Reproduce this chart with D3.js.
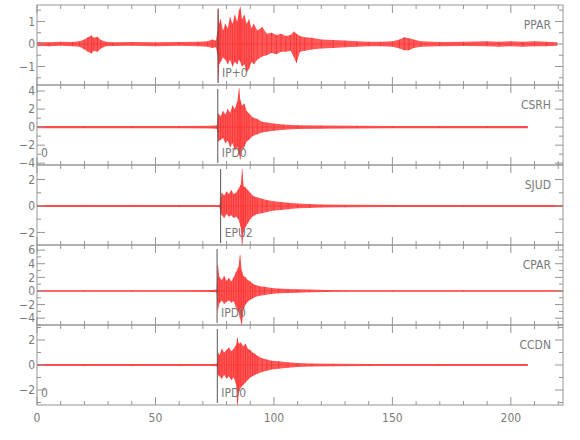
<!DOCTYPE html>
<html>
<head>
<meta charset="utf-8">
<script src="https://cdn.jsdelivr.net/npm/d3@7"></script>
<style>
  body { margin: 0; background: #fff; }
  text { font-family: "Liberation Sans Narrow", "DejaVu Sans Condensed", "Arial Narrow", sans-serif; font-size: 12px; fill: #7a7a7a; }
</style>
</head>
<body>
<div id="container"></div>
<script>
var WIDTH = 580, HEIGHT = 440,
    LEFT = 37, RIGHT = 563,
    TOP = 5, PANEL_H = 80;

// station names, one panel each
var stations = ['PPAR', 'CSRH', 'SJUD', 'CPAR', 'CCDN'];
var yDomains = [[-1.82, 1.73], [-4.2, 4.67], [-2.95, 3.1], [-5.0, 6.75], [-3.2, 3.2]];
var yMajor = [[-1, 0, 1], [-4, -2, 0, 2, 4], [-2, 0, 2], [-4, -2, 0, 2, 4, 6], [-2, 0, 2]];
var yMinor = [[-1.5, -0.5, 0.5, 1.5], [-3, -1, 1, 3], [-1, 1], [-5, -3, -1, 1, 3, 5], [-3, -1, 1, 3]];
var xDomain = [0, 222];
var xMajor = [0, 50, 100, 150, 200];
var xMinor = [10, 20, 30, 40, 60, 70, 80, 90, 110, 120, 130, 140, 160, 170, 180, 190, 210, 220];

// phase picks
var phaseNames = ['IP+0', 'IPD0', 'EPU2', 'IPD0', 'IPD0'];
var phaseTimes = [76.4, 76.3, 77.5, 76.0, 76.1];
var originTimes = [null, 0, null, null, 0];

// trace envelopes (time s, upper, lower)
var pparT  = [0, 5, 10, 15, 18, 20, 21.5, 23, 24, 25.5, 27, 29, 32, 40, 50, 60, 68, 72, 74, 75.5, 76.2, 76.5, 76.9, 77.5, 78.5, 79.5, 80.5, 81.5, 82.5, 83.5, 84.5, 85.3, 85.8, 86.5, 87.5, 88.5, 89.5, 90.5, 91.5, 93, 95, 97, 99, 101, 103, 105, 107, 108.5, 109.5, 111, 113, 116, 120, 125, 130, 135, 140, 145, 150, 153, 155, 157, 159, 162, 170, 180, 190, 195, 200, 205, 210, 215, 219.5];
var pparHi = [0.09, 0.08, 0.1, 0.09, 0.12, 0.2, 0.3, 0.38, 0.28, 0.32, 0.18, 0.1, 0.08, 0.09, 0.08, 0.09, 0.1, 0.12, 0.2, 0.15, 0.6, 1.6, 0.9, 1.1, 0.6, 0.9, 0.7, 1.2, 0.9, 1.3, 1.0, 1.5, 1.65, 1.1, 1.3, 0.9, 1.1, 0.7, 0.9, 0.6, 0.75, 0.45, 0.5, 0.4, 0.45, 0.35, 0.4, 0.55, 0.45, 0.35, 0.3, 0.28, 0.2, 0.18, 0.15, 0.12, 0.1, 0.1, 0.12, 0.2, 0.3, 0.25, 0.2, 0.12, 0.09, 0.1, 0.12, 0.1, 0.12, 0.1, 0.12, 0.1, 0.08];
var pparLo = [-0.09, -0.1, -0.08, -0.1, -0.12, -0.25, -0.35, -0.42, -0.3, -0.35, -0.2, -0.1, -0.09, -0.08, -0.1, -0.08, -0.1, -0.12, -0.18, -0.15, -0.5, -1.7, -0.9, -0.8, -0.6, -0.7, -0.9, -0.7, -1.0, -0.8, -0.9, -0.7, -0.8, -1.0, -0.9, -1.25, -1.1, -0.8, -0.9, -0.7, -0.55, -0.5, -0.4, -0.45, -0.35, -0.35, -0.3, -0.6, -0.85, -0.35, -0.3, -0.25, -0.2, -0.18, -0.15, -0.12, -0.1, -0.1, -0.12, -0.2, -0.28, -0.28, -0.18, -0.12, -0.1, -0.09, -0.1, -0.12, -0.1, -0.12, -0.1, -0.1, -0.08];

var csrhT  = [0, 20, 40, 60, 74, 76, 76.5, 77.5, 78.5, 79.5, 80.5, 81.5, 82.5, 83.5, 84.5, 85.3, 85.8, 86.5, 87.5, 88.5, 89.5, 91, 93, 95, 97, 100, 104, 110, 120, 135, 150, 170, 190, 207];
var csrhHi = [0.12, 0.12, 0.12, 0.12, 0.15, 0.2, 1.5, 1.2, 1.8, 1.4, 2.0, 1.6, 2.4, 2.0, 2.8, 4.3, 3.0, 2.4, 2.6, 1.8, 1.5, 1.1, 0.9, 0.6, 0.5, 0.4, 0.3, 0.22, 0.18, 0.15, 0.12, 0.12, 0.12, 0.12];
var csrhLo = [-0.12, -0.12, -0.12, -0.12, -0.15, -0.2, -1.6, -1.4, -1.2, -1.8, -1.5, -2.2, -1.8, -2.6, -2.2, -3.0, -3.6, -2.6, -2.2, -1.6, -1.4, -1.0, -0.8, -0.6, -0.5, -0.4, -0.3, -0.22, -0.18, -0.15, -0.12, -0.12, -0.12, -0.12];

var sjudT  = [0, 20, 40, 60, 77, 77.5, 78, 79, 80, 81, 82, 83, 84, 85, 86, 86.6, 87.2, 88, 89, 90, 91, 92, 93, 95, 97, 100, 103, 106, 110, 115, 120, 130, 150, 180, 222];
var sjudHi = [0.08, 0.08, 0.08, 0.08, 0.08, 0.6, 1.0, 0.8, 1.1, 0.9, 1.2, 0.9, 1.0, 1.3, 1.6, 2.8, 1.5, 1.4, 1.2, 1.0, 0.8, 0.7, 0.65, 0.55, 0.45, 0.35, 0.3, 0.25, 0.18, 0.15, 0.12, 0.1, 0.08, 0.08, 0.08];
var sjudLo = [-0.08, -0.08, -0.08, -0.08, -0.08, -0.5, -0.7, -0.9, -0.6, -0.8, -0.7, -0.9, -0.8, -1.0, -1.6, -3.0, -2.0, -1.6, -1.3, -1.0, -0.8, -0.7, -0.6, -0.55, -0.45, -0.35, -0.3, -0.25, -0.18, -0.15, -0.12, -0.1, -0.08, -0.08, -0.08];

var cparT  = [0, 20, 40, 60, 74, 75.8, 76.3, 77, 78, 79, 80, 81, 82, 83, 84, 85, 85.7, 86.4, 87.2, 88, 89, 90, 91, 92, 94, 96, 99, 102, 106, 110, 115, 122, 130, 150, 180, 222];
var cparHi = [0.12, 0.12, 0.12, 0.12, 0.15, 0.2, 3.8, 2.0, 1.6, 2.2, 1.5, 1.9, 1.4, 2.0, 2.8, 3.5, 5.3, 3.0, 2.2, 2.0, 1.6, 1.4, 1.1, 0.9, 0.7, 0.6, 0.45, 0.35, 0.3, 0.25, 0.2, 0.15, 0.12, 0.12, 0.12, 0.12];
var cparLo = [-0.12, -0.12, -0.12, -0.12, -0.15, -0.2, -2.8, -1.8, -1.4, -1.9, -1.6, -1.4, -1.7, -1.5, -2.4, -3.0, -4.0, -5.0, -2.8, -2.0, -1.6, -1.3, -1.1, -0.9, -0.7, -0.6, -0.45, -0.35, -0.3, -0.25, -0.2, -0.15, -0.12, -0.12, -0.12, -0.12];

var ccdnT  = [0, 20, 40, 60, 74, 76, 76.4, 77, 78, 79, 80, 81, 82, 83, 84, 84.6, 85.2, 86, 87, 88, 89, 90, 91, 92, 93, 95, 97, 99, 102, 106, 110, 116, 125, 140, 170, 207];
var ccdnHi = [0.08, 0.08, 0.08, 0.08, 0.08, 0.1, 1.0, 0.8, 1.3, 1.0, 1.2, 1.4, 1.1, 1.3, 1.6, 2.2, 1.7, 1.8, 1.5, 1.7, 1.3, 1.2, 1.0, 0.9, 0.75, 0.55, 0.45, 0.35, 0.3, 0.22, 0.16, 0.12, 0.1, 0.08, 0.08, 0.08];
var ccdnLo = [-0.08, -0.08, -0.08, -0.08, -0.08, -0.1, -0.8, -0.9, -1.1, -0.8, -1.1, -0.9, -1.2, -1.0, -1.5, -3.4, -2.2, -1.8, -1.6, -1.4, -1.2, -1.0, -0.9, -0.8, -0.7, -0.55, -0.45, -0.35, -0.3, -0.22, -0.16, -0.12, -0.1, -0.08, -0.08, -0.08];

var traces = [
  {t: pparT, hi: pparHi, lo: pparLo},
  {t: csrhT, hi: csrhHi, lo: csrhLo},
  {t: sjudT, hi: sjudHi, lo: sjudLo},
  {t: cparT, hi: cparHi, lo: cparLo},
  {t: ccdnT, hi: ccdnHi, lo: ccdnLo}
];

var svg = d3.select('#container').append('svg')
    .attr('width', WIDTH)
    .attr('height', HEIGHT);
svg.append('rect').attr('width', WIDTH).attr('height', HEIGHT).attr('fill', '#fff');

var x = d3.scaleLinear().domain(xDomain).range([LEFT, RIGHT]);
var axisColor = '#959595';

stations.forEach(function(name, i) {
  var top = TOP + i*PANEL_H,
      bottom = top + PANEL_H;
  var y = d3.scaleLinear().domain(yDomains[i]).range([bottom, top]);
  var g = svg.append('g').attr('id', name);

  g.append('clipPath').attr('id', 'clip' + i)
    .append('rect').attr('x', LEFT).attr('y', top).attr('width', RIGHT - LEFT).attr('height', PANEL_H);

  var tr = traces[i];
  var pts = tr.t.map(function(t, k) { return {t: t, hi: tr.hi[k], lo: tr.lo[k]}; });

  var traceG = g.append('g').attr('clip-path', 'url(#clip' + i + ')');
  traceG.append('path')
      .datum(pts)
      .attr('d', d3.area().x(function(d){ return x(d.t); }).y0(function(d){ return y(d.lo); }).y1(function(d){ return y(d.hi); }))
      .attr('fill', '#ff0000')
      .attr('fill-opacity', 0.65);
  // peak strokes at each sample
  traceG.selectAll(null).data(pts).enter().append('line')
      .attr('x1', function(d){ return x(d.t); }).attr('x2', function(d){ return x(d.t); })
      .attr('y1', function(d){ return y(d.lo); }).attr('y2', function(d){ return y(d.hi); })
      .attr('stroke', '#ff0000').attr('stroke-width', 0.8).attr('stroke-opacity', 0.5);
  traceG.append('line')
      .attr('x1', x(tr.t[0])).attr('x2', x(tr.t[tr.t.length-1]))
      .attr('y1', y(0)).attr('y2', y(0))
      .attr('stroke', '#ff3030').attr('stroke-width', 0.6);

  // phase marker
  g.append('line')
      .attr('x1', x(phaseTimes[i])).attr('x2', x(phaseTimes[i]))
      .attr('y1', top + 4).attr('y2', bottom - 2)
      .attr('stroke', '#555').attr('stroke-width', 1);
  g.append('text')
      .attr('x', x(phaseTimes[i]) + 4)
      .attr('y', top + 72)
      .text(phaseNames[i]);
  if (originTimes[i] !== null) {
    g.append('text')
        .attr('x', x(originTimes[i]) + 4)
        .attr('y', top + 72)
        .text('0');
  }

  // frame
  g.append('rect')
      .attr('x', LEFT).attr('y', top)
      .attr('width', RIGHT - LEFT).attr('height', PANEL_H)
      .attr('fill', 'none').attr('stroke', axisColor).attr('stroke-width', 1);

  // x ticks top and bottom
  function xTicks(vals, len) {
    g.selectAll(null).data(vals).enter().append('line')
        .attr('x1', function(d){ return x(d); }).attr('x2', function(d){ return x(d); })
        .attr('y1', bottom).attr('y2', bottom - len)
        .attr('stroke', axisColor);
    g.selectAll(null).data(vals).enter().append('line')
        .attr('x1', function(d){ return x(d); }).attr('x2', function(d){ return x(d); })
        .attr('y1', top).attr('y2', top + len)
        .attr('stroke', axisColor);
  }
  xTicks(xMajor, 8);
  xTicks(xMinor, 4);

  // y ticks left and right
  function yTicks(vals, len) {
    g.selectAll(null).data(vals).enter().append('line')
        .attr('x1', LEFT).attr('x2', LEFT + len)
        .attr('y1', function(d){ return y(d); }).attr('y2', function(d){ return y(d); })
        .attr('stroke', axisColor);
    g.selectAll(null).data(vals).enter().append('line')
        .attr('x1', RIGHT).attr('x2', RIGHT - len)
        .attr('y1', function(d){ return y(d); }).attr('y2', function(d){ return y(d); })
        .attr('stroke', axisColor);
  }
  yTicks(yMajor[i], 8);
  yTicks(yMinor[i], 4);

  g.selectAll(null).data(yMajor[i]).enter().append('text')
      .attr('x', LEFT - 2)
      .attr('y', function(d){ return y(d); })
      .attr('dy', '0.35em')
      .attr('text-anchor', 'end')
      .text(function(d){ return d < 0 ? '\u2212' + Math.abs(d) : d; });

  g.append('text')
      .attr('x', RIGHT - 12)
      .attr('y', top + 24)
      .attr('text-anchor', 'end')
      .text(name);
});

svg.selectAll('.xlab').data(xMajor).enter().append('text')
    .attr('class', 'xlab')
    .attr('x', function(d){ return x(d); })
    .attr('y', TOP + 5*PANEL_H + 17)
    .attr('text-anchor', 'middle')
    .text(function(d){ return d; });
</script>
</body>
</html>
